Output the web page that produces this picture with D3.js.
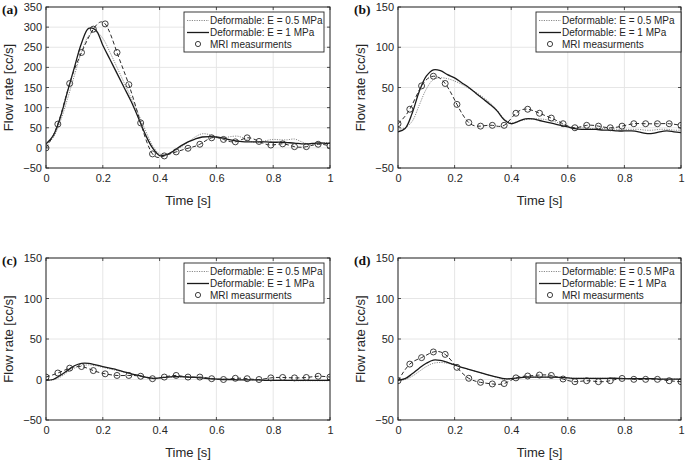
<!DOCTYPE html>
<html><head><meta charset="utf-8">
<script src="https://cdnjs.cloudflare.com/ajax/libs/d3/7.8.5/d3.min.js"></script>
<style>
html,body{margin:0;padding:0;background:#fff;}
svg{display:block;font-family:"Liberation Sans",Arial,sans-serif;}
</style></head>
<body>
<svg id="chart" width="685" height="461"></svg>
<script>
// ---------- DATA ----------
const panelLabels = ["(a)", "(b)", "(c)", "(d)"];
const xTicks = [0, 0.2, 0.4, 0.6, 0.8, 1];
const xTickLabels = ["0", "0.2", "0.4", "0.6", "0.8", "1"];
const yTicksA = [-50, 0, 50, 100, 150, 200, 250, 300, 350];
const yTicksBCD = [-50, 0, 50, 100, 150];
const legendLabels = ["Deformable: E = 0.5 MPa", "Deformable: E = 1 MPa", "MRI measurments"];
const xLabel = "Time [s]";
const yLabel = "Flow rate [cc/s]";

const modelTime = [0,0.025,0.05,0.075,0.1,0.125,0.15,0.175,0.2,0.225,0.25,0.275,0.3,0.325,0.35,0.375,0.4,0.425,0.45,0.475,0.5,
  0.525,0.55,0.575,0.6,0.625,0.65,0.675,0.7,0.725,0.75,0.775,0.8,0.825,0.85,0.875,0.9,0.925,0.95,0.975,1];
const mriTime = [0,0.0417,0.0833,0.125,0.1667,0.2083,0.25,0.2917,0.3333,0.375,0.4167,0.4583,0.5,
  0.5417,0.5833,0.625,0.6667,0.7083,0.75,0.7917,0.8333,0.875,0.9167,0.9583,1];

// Panel (a)
const aE05 = [8,25,65,120,180,238,278,289,272,238,200,162,124,85,44,6,-15,-17,-9,2,14,27,35,33,27,25,28,29,23,15,14,18,21,20,20,22,15,9,10,13,13];
const aE1  = [10,30,75,138,200,260,297,293,255,220,185,150,115,75,33,0,-19,-17,-7,5,15,22,27,28,27,24,20,17,15,15,15,15,14,14,13,12,10,10,12,12,11];
const aMRI = [0,59,160,237,295,308,237,157,62,-15,-20,-10,-1,9,25,21,15,25,16,7,10,3,3,9,5];

// Panel (b)
const bE05 = [-2,0,8,28,48,60,62,61,58,54,49,44,38,31,22,11,6,8,10,11,11,10,8,5,2,0,0,-1,-1,-1,-1,-2,-2,-2,-2,-3,-3,-2,-2,-3,-3];
const bE1  = [-5,-1,18,45,64,72,71,66,62,56,50,43,36,29,21,10,5,8,11,11,9,7,5,3,1,-1,-2,-2,-2,-3,-3,-4,-4,-4,-5,-7,-7,-5,-4,-5,-6];
const bMRI = [5,23,52,64,55,29,6.5,2,3,3,18,23,18,12,5,0,3,2,0,2,5,5,5,5,3];

// Panel (c)
const cE05 = [-1,-0.5,3,9,14,17,18,17,15,13,11,9,7,5,3,2,2,2.5,3,3,3,2.5,2,1.5,1,0.5,0,0,-0.5,-0.5,-1,-1,-1,-1,-1,-1.5,-1.5,-1.5,-1.5,-1.5,-1.5];
const cE1  = [-1,0,5,11,17,20,20,18,16,14,12,9.5,7,5,3,1.5,2,3,3.5,3.5,3,2.5,2,1,0.5,0,0,-0.5,-0.5,-0.5,-0.5,-1,-1,-1,-1,-1,-1,-1,-1,-1,-1];
const cMRI = [3,8,14,16,11,7,5,5,4,1,3,5,3,3,1,0,1.5,1,0,2,2.5,2,2.5,4,3];

// Panel (d)
const dE05 = [-1,0,4,10,16,20,21,20,18,15,12.5,10,7.5,5,2.5,0,0.5,2,3,3,3,3,3,2.5,2,1.5,1.5,1.5,1.5,1.5,1.5,1.5,1,1,1,1,1,0.5,0.5,0.5,0.5];
const dE1  = [-1,1,7,14,20,24,23.5,21,18,15,12.5,10,7.5,5,3,1,1,2,3,3,3,3,3,2.5,2,1.5,1.5,1.5,1.5,1.5,1.5,1.5,1,1,1,1,1,0.5,0.5,0.5,0.5];
const dMRI = [-1.5,19,27,34,31,15,1.5,-3.5,-5.5,-5,2,4.3,5.5,5,0.6,-2.7,-1.5,-2.7,-1.5,1.3,0.2,0.2,0.2,-1.5,-2.7];

// ---------- LAYOUT ----------
const svg = d3.select("#chart");
const panels = [
  {label: panelLabels[0], e05: aE05, e1: aE1, mri: aMRI, yTicks: yTicksA, x0: 46, x1: 330, y0: 7, y1: 168, col: 0},
  {label: panelLabels[1], e05: bE05, e1: bE1, mri: bMRI, yTicks: yTicksBCD, x0: 398, x1: 681, y0: 7, y1: 168, col: 1},
  {label: panelLabels[2], e05: cE05, e1: cE1, mri: cMRI, yTicks: yTicksBCD, x0: 46, x1: 330, y0: 258, y1: 420, col: 0},
  {label: panelLabels[3], e05: dE05, e1: dE1, mri: dMRI, yTicks: yTicksBCD, x0: 398, x1: 681, y0: 258, y1: 420, col: 1}
];

const axisColor = "#262626";

panels.forEach((p, i) => {
  const x = d3.scaleLinear().domain([0, 1]).range([p.x0, p.x1]);
  const yDom = d3.extent(p.yTicks);
  const y = d3.scaleLinear().domain(yDom).range([p.y1, p.y0]);
  const g = svg.append("g");

  // grid
  g.append("g").selectAll("line").data(xTicks).join("line")
    .attr("x1", d => x(d)).attr("x2", d => x(d)).attr("y1", p.y0).attr("y2", p.y1)
    .attr("stroke", "#e3e3e3").attr("stroke-width", 0.9);
  g.append("g").selectAll("line").data(p.yTicks).join("line")
    .attr("x1", p.x0).attr("x2", p.x1).attr("y1", d => y(d)).attr("y2", d => y(d))
    .attr("stroke", "#e3e3e3").attr("stroke-width", 0.9);

  // axes
  const xAxis = d3.axisBottom(x).tickValues(xTicks).tickFormat((d, k) => xTickLabels[k]).tickSize(0).tickPadding(6);
  const gx = g.append("g").attr("transform", `translate(0,${p.y1})`).call(xAxis);
  const yAxis = d3.axisLeft(y).tickValues(p.yTicks).tickFormat(d3.format("d")).tickSize(0).tickPadding(4);
  const gy = g.append("g").attr("transform", `translate(${p.x0},0)`).call(yAxis);
  [gx, gy].forEach(a => {
    a.select(".domain").remove();
    a.selectAll("text").attr("font-size", 11).attr("fill", axisColor)
      .attr("font-family", "'Liberation Sans', Arial, sans-serif");
  });
  // inner ticks (MATLAB style)
  g.append("g").selectAll("line").data(xTicks).join("line")
    .attr("x1", d => x(d)).attr("x2", d => x(d)).attr("y1", p.y1).attr("y2", p.y1 - 3)
    .attr("stroke", axisColor).attr("stroke-width", 0.8);
  g.append("g").selectAll("line").data(xTicks).join("line")
    .attr("x1", d => x(d)).attr("x2", d => x(d)).attr("y1", p.y0).attr("y2", p.y0 + 3)
    .attr("stroke", axisColor).attr("stroke-width", 0.8);
  g.append("g").selectAll("line").data(p.yTicks).join("line")
    .attr("x1", p.x0).attr("x2", p.x0 + 3).attr("y1", d => y(d)).attr("y2", d => y(d))
    .attr("stroke", axisColor).attr("stroke-width", 0.8);
  g.append("g").selectAll("line").data(p.yTicks).join("line")
    .attr("x1", p.x1).attr("x2", p.x1 - 3).attr("y1", d => y(d)).attr("y2", d => y(d))
    .attr("stroke", axisColor).attr("stroke-width", 0.8);

  // clip
  const clipId = "clip" + i;
  svg.append("clipPath").attr("id", clipId).append("rect")
    .attr("x", p.x0).attr("y", p.y0).attr("width", p.x1 - p.x0).attr("height", p.y1 - p.y0);
  const plot = g.append("g").attr("clip-path", `url(#${clipId})`);

  const lineModel = d3.line().x((d, k) => x(modelTime[k])).y(d => y(d)).curve(d3.curveCatmullRom.alpha(0.5));
  const lineMRI = d3.line().x((d, k) => x(mriTime[k])).y(d => y(d)).curve(d3.curveNatural);

  plot.append("path").datum(p.e05).attr("d", lineModel)
    .attr("fill", "none").attr("stroke", "#8a8a8a").attr("stroke-width", 1).attr("stroke-dasharray", "1.2,1.2");
  plot.append("path").datum(p.e1).attr("d", lineModel)
    .attr("fill", "none").attr("stroke", "#1a1a1a").attr("stroke-width", 1.3);
  plot.append("path").datum(p.mri).attr("d", lineMRI)
    .attr("fill", "none").attr("stroke", "#2a2a2a").attr("stroke-width", 1).attr("stroke-dasharray", "4,2.5");
  plot.append("g").selectAll("circle").data(p.mri).join("circle")
    .attr("cx", (d, k) => x(mriTime[k])).attr("cy", d => y(d)).attr("r", 3)
    .attr("fill", "none").attr("stroke", "#2a2a2a").attr("stroke-width", 0.9);

  // box
  g.append("rect").attr("x", p.x0).attr("y", p.y0).attr("width", p.x1 - p.x0).attr("height", p.y1 - p.y0)
    .attr("fill", "none").attr("stroke", axisColor).attr("stroke-width", 1);

  // axis titles
  g.append("text").attr("x", (p.x0 + p.x1) / 2).attr("y", p.y1 + 37)
    .attr("text-anchor", "middle").attr("font-size", 13).attr("fill", axisColor).text(xLabel);
  g.append("text").attr("transform", `translate(${p.x0 - 33},${(p.y0 + p.y1) / 2}) rotate(-90)`)
    .attr("text-anchor", "middle").attr("font-size", 13).attr("fill", axisColor).text(yLabel);

  // panel label
  g.append("text").attr("x", p.x0 - 44).attr("y", p.y0 + 7)
    .attr("font-family", "'Liberation Serif','Times New Roman',serif").attr("font-weight", "bold")
    .attr("font-size", 13.5).attr("fill", "#111").text(p.label);

  // legend
  const lw = p.col === 0 ? 140 : 145;
  const lx = p.col === 0 ? p.x1 - 6 - lw : p.x1 - lw;
  const ly = p.y0 + 5;
  const lg = g.append("g");
  lg.append("rect").attr("x", lx).attr("y", ly).attr("width", lw).attr("height", 40)
    .attr("fill", "#fff").attr("stroke", axisColor).attr("stroke-width", 0.9);
  const rows = [ly + 8.5, ly + 20.5, ly + 32];
  lg.append("line").attr("x1", lx + 3).attr("x2", lx + 25).attr("y1", rows[0]).attr("y2", rows[0])
    .attr("stroke", "#8a8a8a").attr("stroke-width", 1).attr("stroke-dasharray", "1.2,1.2");
  lg.append("line").attr("x1", lx + 3).attr("x2", lx + 25).attr("y1", rows[1]).attr("y2", rows[1])
    .attr("stroke", "#1a1a1a").attr("stroke-width", 1.3);
  lg.append("circle").attr("cx", lx + 14).attr("cy", rows[2]).attr("r", 2.6)
    .attr("fill", "none").attr("stroke", "#2a2a2a").attr("stroke-width", 0.9);
  legendLabels.forEach((t, k) => {
    lg.append("text").attr("x", lx + 26).attr("y", rows[k]).attr("dy", "0.35em")
      .attr("font-size", 10).attr("fill", axisColor).text(t);
  });
});
</script>
</body></html>
